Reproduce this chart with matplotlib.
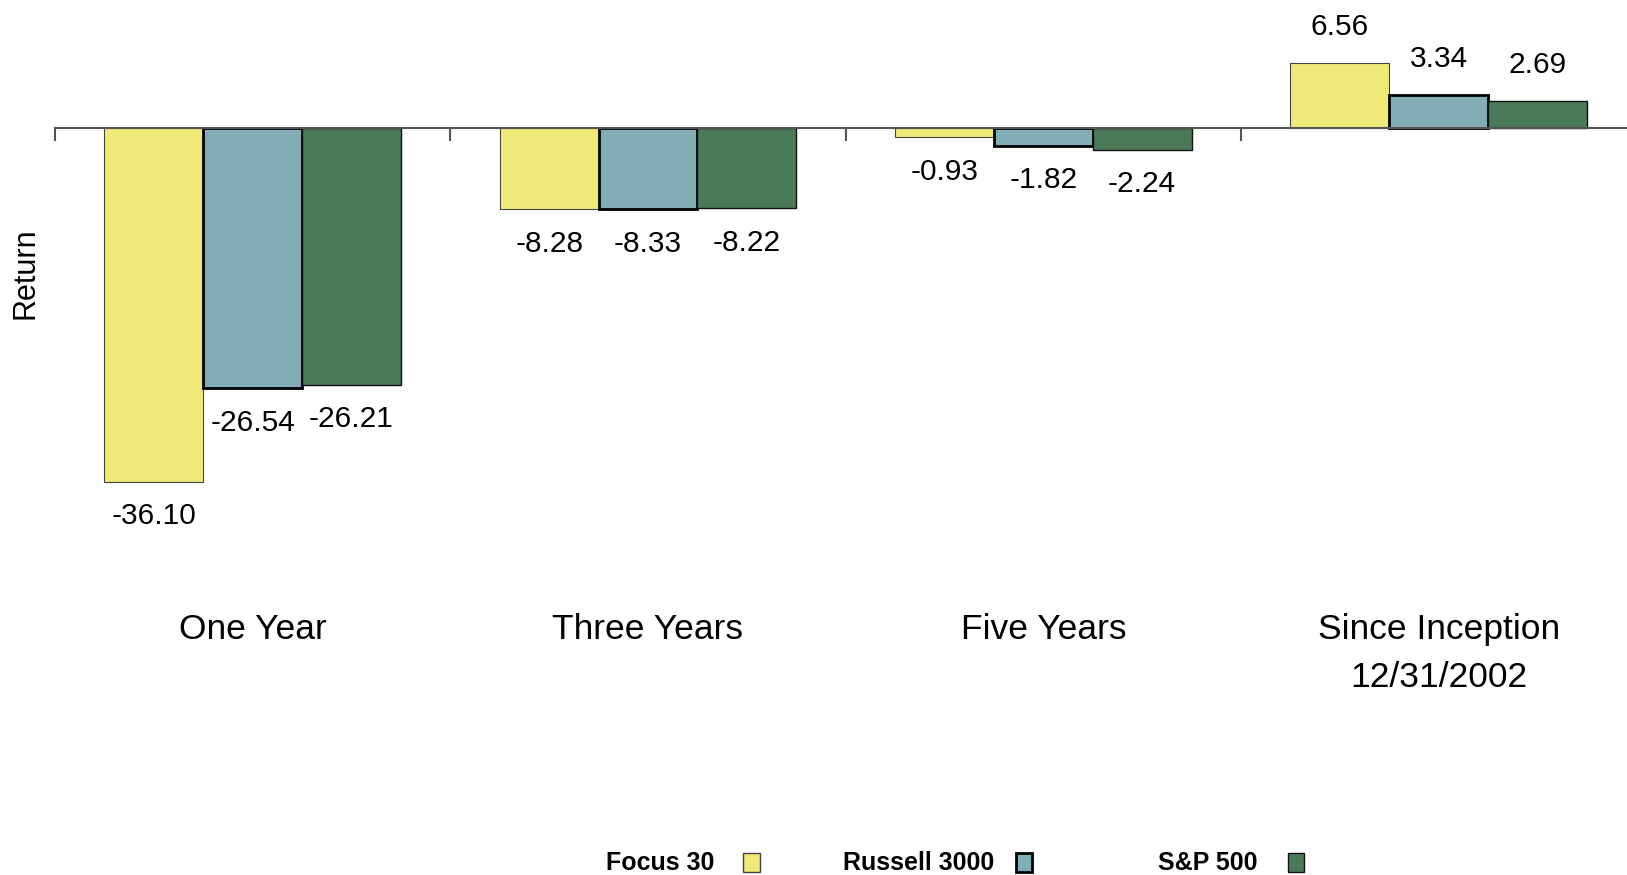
import numpy as np
import matplotlib.pyplot as plt
from matplotlib.patches import Rectangle

periodos = ["One Year", "Three Years", "Five Years", "Since Inception\n12/31/2002"]
series = ["Focus 30", "Russell 3000", "S&P 500"]
focus30 = [-36.10, -8.28, -0.93, 6.56]
russell3000 = [-26.54, -8.33, -1.82, 3.34]
sp500 = [-26.21, -8.22, -2.24, 2.69]

colores = ["#efe978", "#82adb4", "#4b7a58"]
bordes = [("#444444", 0.8), ("#000000", 2.0), ("#111111", 1.0)]

fig = plt.figure(figsize=(16.27, 8.75), dpi=100)
# ejes: desde el borde superior, linea de cero en y=123/843
ax = fig.add_axes([53 / 1568, 0.4057, (1577 - 53) / 1568, 0.5943])
ax.set_xlim(-0.5, 3.5)
ax.set_ylim(-40, 13.02)

x = np.arange(len(periodos))
ancho = 0.25
valores = [focus30, russell3000, sp500]
for i, vals in enumerate(valores):
    pos = x + (i - 1) * ancho
    ax.bar(pos, vals, ancho, color=colores[i],
           edgecolor=bordes[i][0], linewidth=bordes[i][1], zorder=1)
    for xb, v in zip(pos, vals):
        off = 26 if v > 0 else -25
        ax.annotate("%.2f" % v, (xb, v), xytext=(0, off), textcoords="offset points",
                    ha="center", va="center", fontsize=21.5, family="Liberation Sans")

# linea de cero con marcas entre grupos
for s in ["top", "right", "left"]:
    ax.spines[s].set_visible(False)
ax.spines["bottom"].set_position(("data", 0))
ax.spines["bottom"].set_color("#555555")
ax.spines["bottom"].set_linewidth(1.5)
ax.set_xticks(np.arange(-0.5, 4, 1))
ax.tick_params(axis="x", direction="out", length=9.5, width=1.5, color="#555555",
               labelbottom=False)
ax.set_yticks([])

# etiquetas de categorias (una linea cada vez)
for xi, nombre in zip(x, periodos):
    for k, linea in enumerate(nombre.split("\n")):
        fig.text((53 + (xi + 0.5) * 381) / 1568, (843 - 616 - 46 * k) / 843, linea,
                 ha="center", va="baseline", fontsize=25.5, family="Liberation Sans")

fig.text(25 / 1568, 1 - 263 / 843, "Return", rotation=90, ha="center", va="center",
         fontsize=22, family="Liberation Sans")

# leyenda
fin_texto = [688, 958, 1212]
cuadro_x = [716, 979, 1241]
for nombre, xt, xc, c, b in zip(series, fin_texto, cuadro_x, colores, bordes):
    fig.text(xt / 1568, 1 - 831 / 843, nombre, ha="right", va="center",
             fontsize=18, fontweight="bold", family="Liberation Sans")
    fig.patches.append(Rectangle((xc / 1568, 1 - 840 / 843), 16 / 1568, 18 / 843,
                                 transform=fig.transFigure, facecolor=c,
                                 edgecolor=b[0], linewidth=max(b[1], 1.0)))

plt.savefig("out.png")
